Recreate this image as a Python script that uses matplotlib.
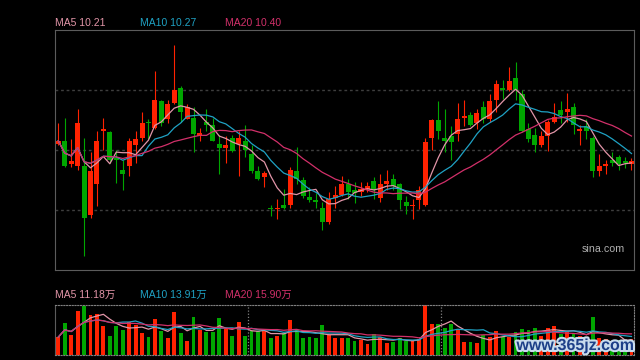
import matplotlib
matplotlib.use("Agg")
import matplotlib.patheffects as pe
import numpy as np
import pandas as pd
from matplotlib import pyplot as plt

# daily candles (price in yuan)
opens = [10.34, 10.36, 10.20, 10.19, 10.19, 9.85, 10.06, 10.43, 10.42, 10.24,
         10.16, 10.19, 10.33, 10.38, 10.49, 10.45, 10.63, 10.51, 10.62, 10.72,
         10.51, 10.52, 10.39, 10.49, 10.47, 10.34, 10.31, 10.38, 10.34, 10.36,
         10.27, 10.15, 10.11, 9.90, 9.89, 9.92, 9.92, 10.15, 10.09, 9.97,
         9.95, 9.90, 9.80, 9.97, 9.99, 10.06, 10.02, 10.01, 10.03, 10.08,
         9.97, 10.06, 10.10, 10.06, 9.94, 9.91, 9.95, 9.92, 10.38, 10.50,
         10.38, 10.39, 10.41, 10.52, 10.54, 10.48, 10.59, 10.51, 10.64, 10.72,
         10.71, 10.79, 10.68, 10.44, 10.40, 10.33, 10.39, 10.49, 10.57, 10.56,
         10.59, 10.43, 10.46, 10.38, 10.15, 10.19, 10.23, 10.25, 10.22, 10.20]
highs = [10.48, 10.52, 10.37, 10.58, 10.38, 10.28, 10.43, 10.52, 10.43, 10.30,
         10.23, 10.38, 10.43, 10.56, 10.51, 10.84, 10.64, 10.64, 11.02, 10.74,
         10.61, 10.59, 10.45, 10.58, 10.52, 10.40, 10.39, 10.40, 10.43, 10.47,
         10.33, 10.19, 10.15, 9.92, 9.96, 10.03, 10.18, 10.32, 10.11, 10.04,
         10.00, 9.94, 10.01, 10.05, 10.12, 10.10, 10.08, 10.08, 10.08, 10.11,
         10.13, 10.16, 10.13, 10.07, 9.98, 9.96, 10.05, 10.38, 10.51, 10.63,
         10.58, 10.46, 10.62, 10.64, 10.56, 10.58, 10.63, 10.68, 10.78, 10.78,
         10.87, 10.90, 10.71, 10.48, 10.45, 10.43, 10.50, 10.62, 10.63, 10.69,
         10.62, 10.47, 10.51, 10.39, 10.27, 10.23, 10.28, 10.26, 10.25, 10.24]
lows = [10.33, 10.18, 10.18, 10.16, 9.57, 9.83, 9.91, 10.30, 10.21, 10.07,
        10.02, 10.12, 10.21, 10.36, 10.37, 10.44, 10.46, 10.48, 10.61, 10.49,
        10.51, 10.28, 10.36, 10.43, 10.36, 10.13, 10.21, 10.28, 10.12, 10.25,
        10.14, 10.09, 10.04, 9.84, 9.82, 9.89, 9.90, 10.06, 9.97, 9.94,
        9.90, 9.75, 9.79, 9.90, 9.98, 9.96, 9.93, 9.98, 10.01, 9.96,
        9.94, 10.02, 10.02, 9.89, 9.86, 9.82, 9.89, 9.91, 10.30, 10.37,
        10.28, 10.23, 10.36, 10.46, 10.46, 10.44, 10.48, 10.49, 10.56, 10.65,
        10.70, 10.64, 10.42, 10.35, 10.28, 10.32, 10.29, 10.48, 10.48, 10.49,
        10.41, 10.33, 10.37, 10.11, 10.12, 10.13, 10.19, 10.16, 10.17, 10.16]
closes = [10.36, 10.19, 10.22, 10.48, 9.83, 10.15, 10.36, 10.44, 10.23, 10.23,
          10.13, 10.36, 10.37, 10.48, 10.48, 10.64, 10.48, 10.61, 10.71, 10.56,
          10.59, 10.41, 10.41, 10.47, 10.36, 10.31, 10.33, 10.29, 10.38, 10.30,
          10.15, 10.10, 10.14, 9.89, 9.90, 9.90, 10.16, 10.10, 9.98, 9.95,
          9.94, 9.80, 9.96, 9.99, 10.06, 10.01, 10.00, 10.03, 10.05, 10.02,
          10.06, 10.08, 10.05, 9.95, 9.91, 9.92, 10.02, 10.35, 10.50, 10.43,
          10.36, 10.35, 10.51, 10.53, 10.47, 10.55, 10.51, 10.63, 10.75, 10.71,
          10.77, 10.71, 10.43, 10.37, 10.33, 10.39, 10.49, 10.52, 10.54, 10.58,
          10.47, 10.44, 10.43, 10.15, 10.19, 10.20, 10.21, 10.20, 10.21, 10.22]
# volume in 万 shares
volumes = [13.5, 24.4, 15.2, 32.8, 37.3, 30.5, 31.2, 21.6, 14.5, 21.6,
           19.1, 24.9, 22.9, 16.8, 13.5, 27.4, 18.3, 13.0, 32.5, 16.8,
           10.7, 28.7, 19.1, 17.3, 17.3, 28.0, 19.8, 14.7, 24.9, 14.2,
           17.8, 17.8, 18.3, 12.7, 14.2, 16.5, 26.4, 19.1, 12.7, 13.2,
           12.7, 22.6, 15.2, 13.0, 13.0, 12.7, 10.7, 11.4, 8.2, 15.8,
           13.2, 9.1, 9.7, 12.7, 10.7, 11.4, 12.0, 37.7, 23.4, 23.4,
           20.3, 23.1, 19.1, 9.7, 9.7, 8.9, 15.2, 13.2, 18.1, 13.5,
           13.5, 17.1, 19.4, 18.8, 20.2, 14.5, 20.2, 21.9, 15.8, 17.8,
           15.8, 14.1, 12.6, 28.7, 12.6, 11.7, 10.7, 11.2, 10.1, 12.0]
month_breaks = [29.5, 59.5]

price_labels = ["MA5 10.21", "MA10 10.27", "MA20 10.40"]
volume_labels = ["MA5 11.18万", "MA10 13.91万", "MA20 15.90万"]
ma_windows = [5, 10, 20]
ma_colors = ["#e295a8", "#1fa2c4", "#d2306a"]

UP = "#ff2200"
DOWN = "#00a600"
FONT = ["Liberation Sans", "Noto Sans CJK SC", "DejaVu Sans"]

o, h, l, c = map(np.array, (opens, highs, lows, closes))
vol = np.array(volumes)
x = np.arange(len(c))
colors = np.where(c >= o, UP, DOWN)

fig = plt.figure(figsize=(6.4, 3.6), dpi=100, facecolor="black")
W, H = 640, 360
ax = fig.add_axes([54.5 / W, (H - 269.5) / H, 579.5 / W, 240 / H], facecolor="black")
vax = fig.add_axes([54.5 / W, 5 / H, 579.5 / W, 50 / H], facecolor="black")

# price panel
lo, hi = 9.475, 11.125
ax.set_ylim(lo, hi)
ax.set_xlim(-0.59, len(c) - 0.61)
for frac in (0.25, 0.5, 0.75):
    ax.axhline(lo + frac * (hi - lo), color="#3e3e3e", lw=1, ls=(0, (2, 2)), zorder=0)
ax.vlines(x, l, h, colors=colors, lw=0.8, zorder=2)
body = np.maximum(np.abs(c - o), 0.006)
ax.bar(x, body, bottom=np.minimum(o, c), width=0.78, color=colors, lw=0, zorder=3)
for n, col in zip(ma_windows, ma_colors):
    ma = pd.Series(c).rolling(n, min_periods=1).mean()
    ax.plot(x, ma, color=col, lw=0.9, zorder=4)
for s in ax.spines.values():
    s.set_color("#5c5c5c")
ax.set_xticks([])
ax.set_yticks([])

# volume panel
vax.set_xlim(-0.59, len(c) - 0.61)
vax.set_ylim(0, vol.max())
vax.bar(x, vol, width=0.6, color=colors, lw=0, zorder=2)
for n, col in zip(ma_windows, ma_colors):
    ma = pd.Series(vol).rolling(n, min_periods=1).mean()
    vax.plot(x, ma, color=col, lw=0.9, zorder=3)
for xb in month_breaks:
    vax.axvline(xb, color="#808080", lw=0.9, ls=(0, (1, 1.5)), zorder=1)
vax.spines["left"].set_color("#5c5c5c")
for side in ("top", "bottom", "right"):
    vax.spines[side].set_color("#808080")
    vax.spines[side].set_linestyle((0, (1, 1.5)))
vax.set_xticks([])
vax.set_yticks([])

# MA legends
for lab, col, px in zip(price_labels, ma_colors, (55, 140, 225)):
    fig.text(px / W, 1 - 23.5 / H, lab, color=col, fontsize=7.5, family=FONT, va="center")
for lab, col, px in zip(volume_labels, ma_colors, (55, 140, 225)):
    fig.text(px / W, 1 - 295 / H, lab, color=col, fontsize=7.5, family=FONT, va="center")

fig.text(582 / W, 1 - 249 / H, "sina.com", color="#b0b0b0", fontsize=7.7, family=FONT, va="center")
fig.text(516.5 / W, 1 - 350 / H, "www.365jz.com", color="#1d3f88", fontsize=11.5,
         family=FONT, fontweight="bold", va="baseline",
         path_effects=[pe.withStroke(linewidth=3, foreground="#c9dced")])

fig.savefig("out.png", dpi=100, facecolor="black")
